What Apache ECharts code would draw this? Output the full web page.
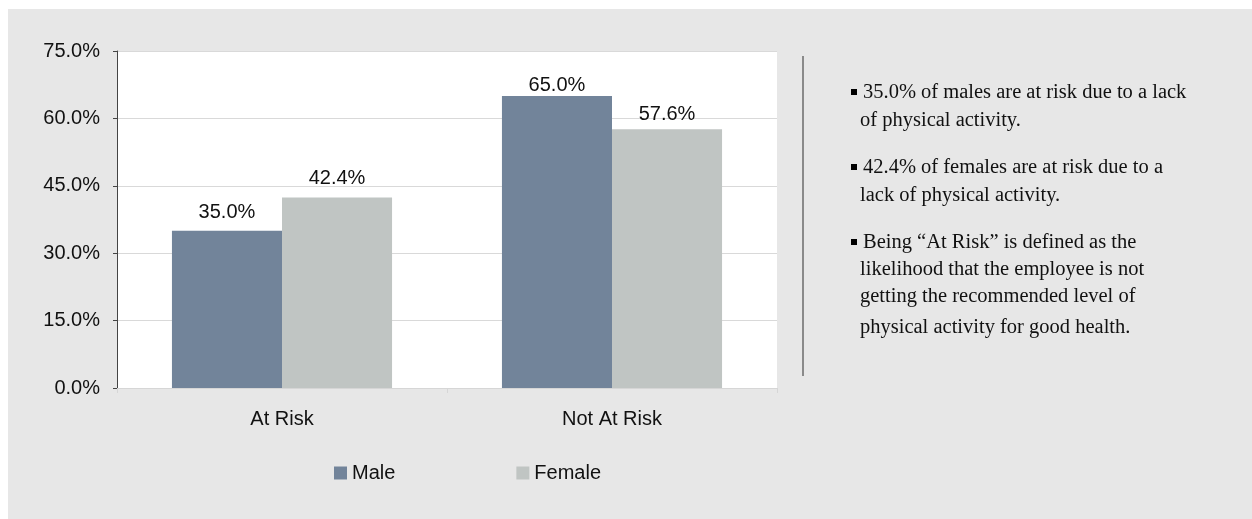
<!DOCTYPE html>
<html>
<head>
<meta charset="utf-8">
<script src="https://cdn.jsdelivr.net/npm/echarts@6/dist/echarts.min.js"></script>
<style>
  html, body { margin: 0; padding: 0; background: #ffffff; }
  #chart { width: 1252px; height: 519px; }
</style>
</head>
<body>
<div id="chart"></div>
<script>
// Physical activity risk by gender
const categories = ['At Risk', 'Not At Risk'];
const maleValues = [35.0, 65.0];
const femaleValues = [42.4, 57.6];
const seriesNames = ['Male', 'Female'];
const yTicks = [0, 15, 30, 45, 60, 75];

// Gap between each value label and the top of its bar
const maleLabelGap = [8, 0];
const femaleLabelGap = [9, 5];

// Commentary panel on the right, one entry per wrapped line
const notes = [
  { bullet: true,  text: '35.0% of males are at risk due to a lack', y: 93 },
  { bullet: false, text: 'of physical activity.', y: 121 },
  { bullet: true,  text: '42.4% of females are at risk due to a', y: 168 },
  { bullet: false, text: 'lack of physical activity.', y: 196 },
  { bullet: true,  text: 'Being \u201CAt Risk\u201D is defined as the', y: 243 },
  { bullet: false, text: 'likelihood that the employee is not', y: 270 },
  { bullet: false, text: 'getting the recommended level of', y: 297 },
  { bullet: false, text: 'physical activity for good health.', y: 328 }
];

const chart = echarts.init(document.getElementById('chart'), null, { renderer: 'canvas' });

const serifFont = '"Liberation Serif", "Times New Roman", serif';
const sansFont = '"Liberation Sans", Arial, sans-serif';

const noteGraphics = [];
notes.forEach(n => {
  if (n.bullet) {
    noteGraphics.push({
      type: 'rect', z: 10,
      shape: { x: 851, y: n.y - 4, width: 6, height: 6 },
      style: { fill: '#000000' }
    });
  }
  noteGraphics.push({
    type: 'text', z: 10,
    x: n.bullet ? 863 : 860, y: n.y,
    style: {
      text: n.text, fill: '#111111',
      font: '20.5px ' + serifFont,
      verticalAlign: 'middle', align: 'left'
    }
  });
});

const labelStyle = {
  show: true, position: 'top', distance: 5,
  fontFamily: sansFont, fontSize: 20, color: '#111111',
  formatter: p => p.value.toFixed(1) + '%'
};

const withLabelGap = (values, gaps) =>
  values.map((v, i) => ({ value: v, label: { distance: gaps[i] } }));

const option = {
  backgroundColor: '#ffffff',
  animation: false,
  graphic: [
    { type: 'rect', z: -10, silent: true,
      shape: { x: 8, y: 9, width: 1244, height: 510 },
      style: { fill: '#e7e7e7' } },
    { type: 'line', z: 10,
      shape: { x1: 803, y1: 56, x2: 803, y2: 376 },
      style: { stroke: '#8a8a8a', lineWidth: 2 } }
  ].concat(noteGraphics),
  grid: {
    left: 117, right: 475, top: 51, bottom: 131,
    show: true, backgroundColor: '#ffffff', borderWidth: 0
  },
  legend: {
    data: seriesNames,
    left: 334, top: 463, padding: 0,
    itemWidth: 13, itemHeight: 13, itemGap: 121,
    icon: 'rect',
    textStyle: { fontFamily: sansFont, fontSize: 20, color: '#111111' }
  },
  xAxis: {
    type: 'category',
    data: categories,
    axisLine: { lineStyle: { color: '#d6d6d6', width: 1 } },
    axisTick: { show: true, length: 5, lineStyle: { color: '#d6d6d6' } },
    axisLabel: { fontFamily: sansFont, fontSize: 20, color: '#111111', margin: 21 }
  },
  yAxis: {
    type: 'value',
    min: yTicks[0], max: yTicks[yTicks.length - 1], interval: 15,
    axisLine: { show: true, lineStyle: { color: '#444444', width: 1 } },
    axisTick: { show: true, length: 4, lineStyle: { color: '#444444' } },
    splitLine: { lineStyle: { color: '#d9d9d9', width: 1 } },
    axisLabel: {
      fontFamily: sansFont, fontSize: 20, color: '#111111', margin: 17,
      formatter: v => v.toFixed(1) + '%'
    }
  },
  series: [
    {
      name: seriesNames[0], type: 'bar',
      data: withLabelGap(maleValues, maleLabelGap),
      barGap: '0%', barCategoryGap: '33.3%',
      itemStyle: { color: '#72849a' },
      label: labelStyle
    },
    {
      name: seriesNames[1], type: 'bar',
      data: withLabelGap(femaleValues, femaleLabelGap),
      barGap: '0%', barCategoryGap: '33.3%',
      itemStyle: { color: '#c0c5c3' },
      label: labelStyle
    }
  ]
};

chart.setOption(option);
</script>
</body>
</html>
